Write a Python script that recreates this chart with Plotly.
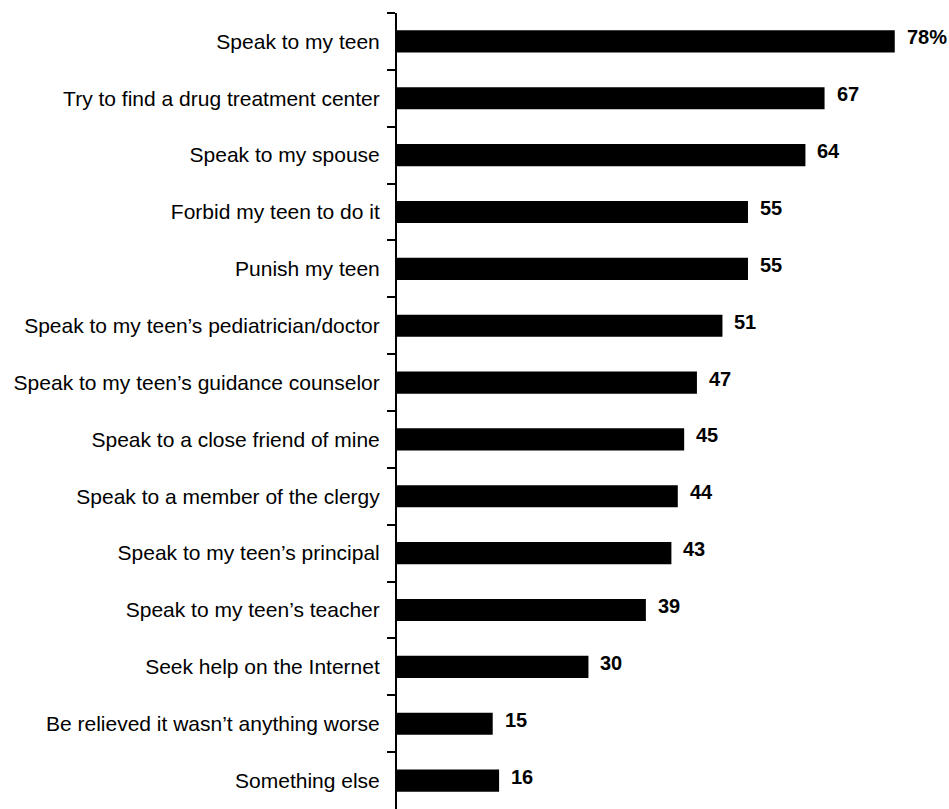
import plotly.graph_objects as go

categories = [
    "Speak to my teen",
    "Try to find a drug treatment center",
    "Speak to my spouse",
    "Forbid my teen to do it",
    "Punish my teen",
    "Speak to my teen\u2019s pediatrician/doctor",
    "Speak to my teen\u2019s guidance counselor",
    "Speak to a close friend of mine",
    "Speak to a member of the clergy",
    "Speak to my teen\u2019s principal",
    "Speak to my teen\u2019s teacher",
    "Seek help on the Internet",
    "Be relieved it wasn\u2019t anything worse",
    "Something else",
]
values = [78, 67, 64, 55, 55, 51, 47, 45, 44, 43, 39, 30, 15, 16]
value_labels = ["78%", "67", "64", "55", "55", "51", "47", "45", "44", "43", "39", "30", "15", "16"]

font_family = "Liberation Sans, Arial, sans-serif"

fig = go.Figure(
    go.Bar(
        x=values,
        y=categories,
        orientation="h",
        width=0.39,
        marker=dict(color="#000000", line=dict(width=0)),
        hoverinfo="x+y",
    )
)

for cat, val, lab in zip(categories, values, value_labels):
    fig.add_annotation(
        x=val, y=cat, text=f"<b>{lab}</b>", showarrow=False,
        xanchor="left", yanchor="middle", xshift=10, yshift=4,
        font=dict(family=font_family, size=20, color="#000000"),
    )

fig.update_layout(
    width=949, height=809,
    margin=dict(l=397, r=0, t=13, b=0),
    paper_bgcolor="white", plot_bgcolor="white",
    showlegend=False,
    font=dict(family=font_family, size=21, color="#000000"),
    xaxis=dict(range=[0, 86.5], visible=False, fixedrange=True),
    yaxis=dict(
        categoryorder="array", categoryarray=categories, autorange="reversed",
        showline=True, linecolor="#000000", linewidth=2,
        ticks="outside", tickson="boundaries", ticklen=8, tickwidth=2, tickcolor="#000000",
        showgrid=False, zeroline=False, ticklabelstandoff=11,
        tickfont=dict(family=font_family, size=21, color="#000000"),
    ),
)

fig.write_html("out.html")
